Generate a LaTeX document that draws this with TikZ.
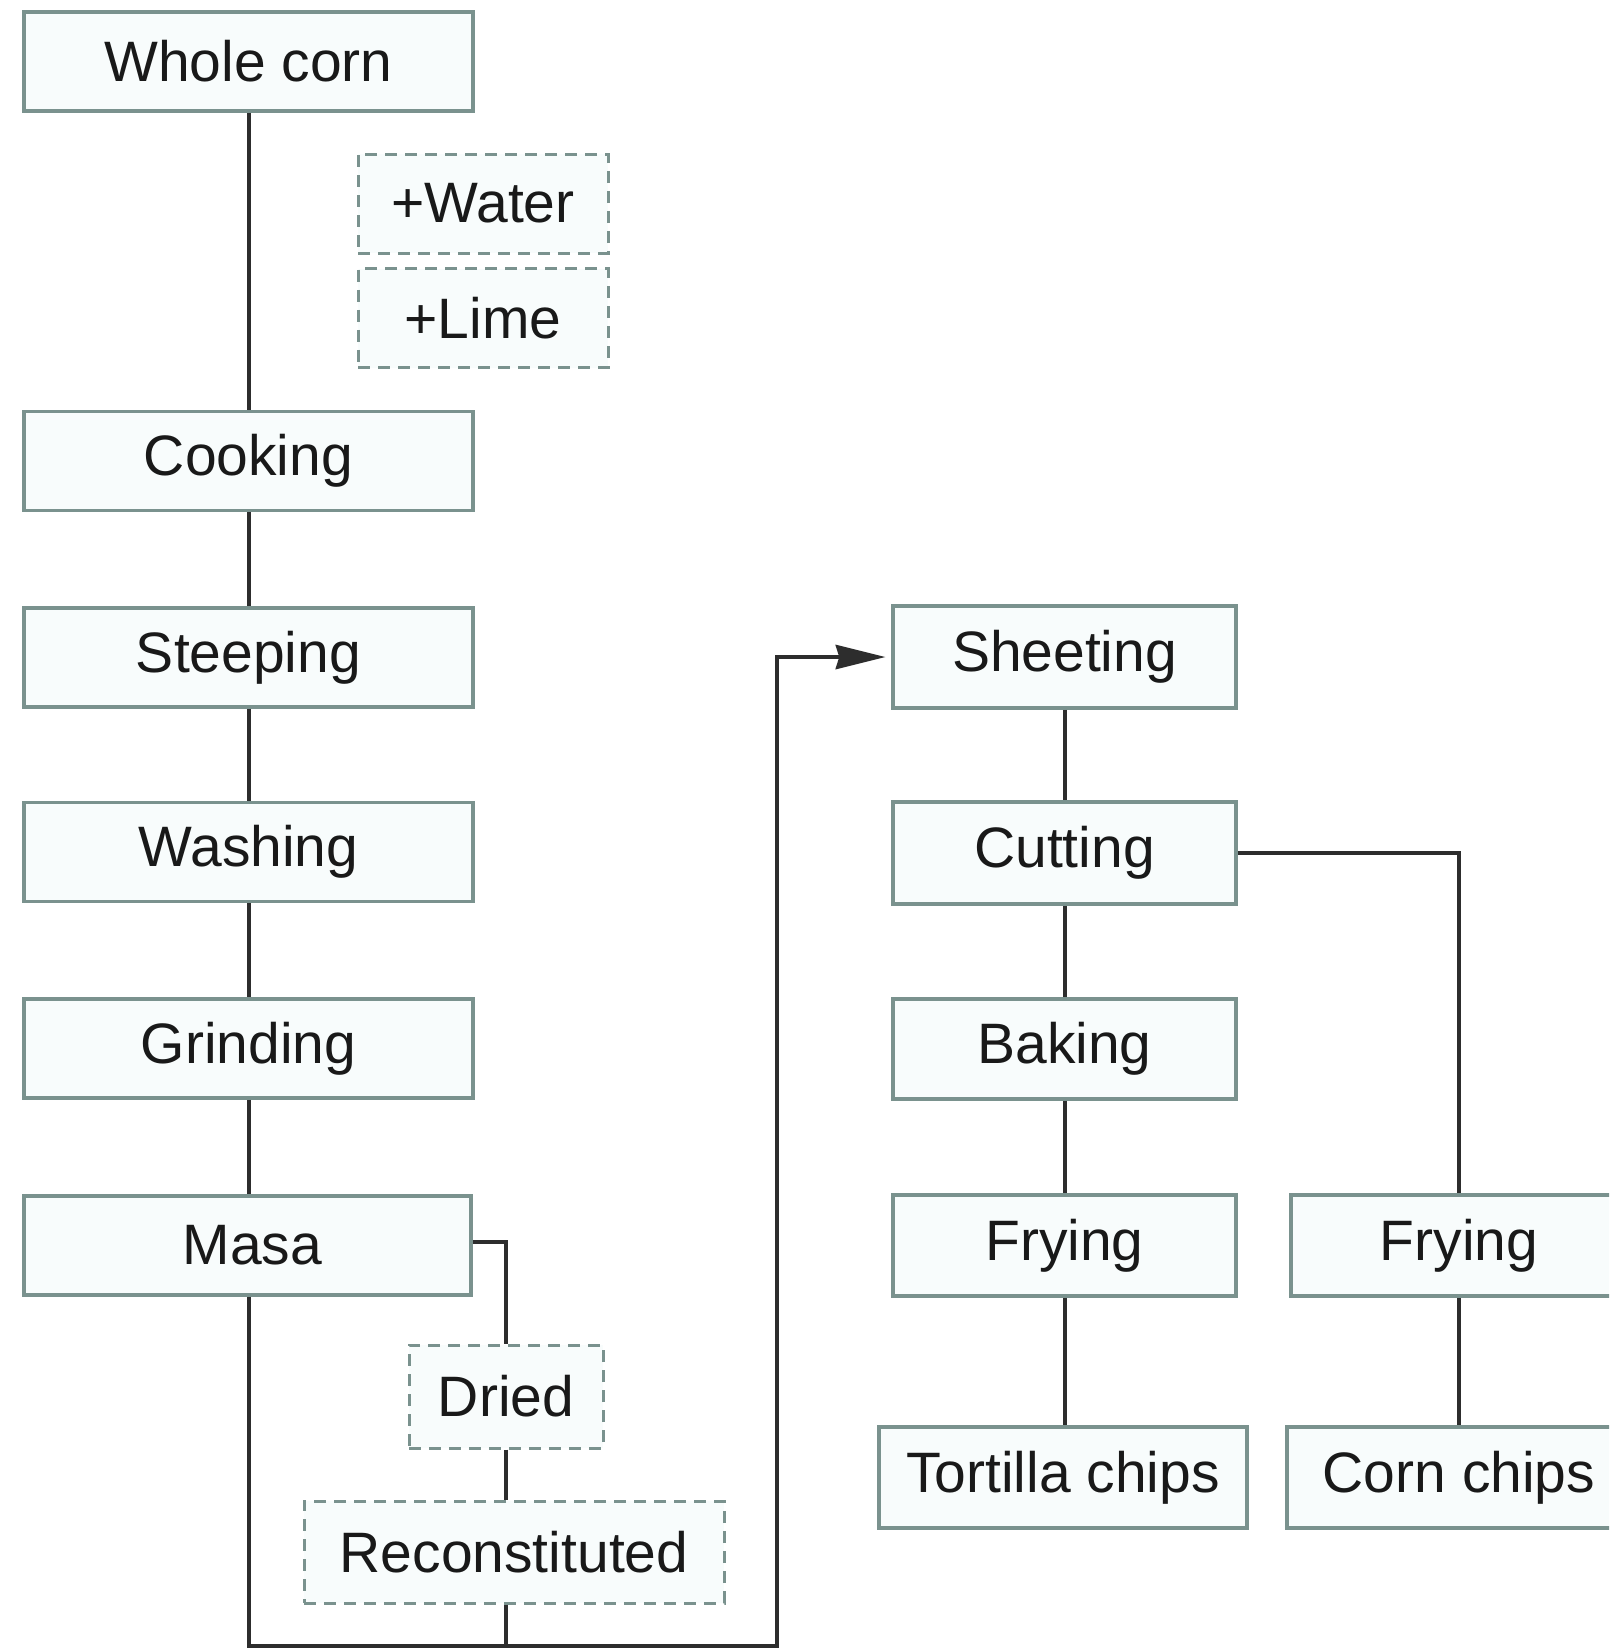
\documentclass[tikz,border=0pt]{standalone}
\usepackage{fontspec}
\setmainfont{Liberation Sans}
\usetikzlibrary{arrows.meta}
\definecolor{boxline}{RGB}{122,146,142}
\definecolor{boxfill}{RGB}{248,252,252}
\definecolor{conn}{RGB}{45,45,45}
\definecolor{txt}{RGB}{25,25,25}
\tikzset{
  box/.style={draw=boxline, fill=boxfill, line width=3.5pt, minimum height=99pt, inner sep=0pt,
    text=txt, font=\fontsize{57}{60}\selectfont},
  dbox/.style={box, dash pattern=on 12pt off 8pt, line width=3pt},
  connline/.style={draw=conn, line width=4pt},
}
\begin{document}
\begin{tikzpicture}[x=1pt,y=-1pt]
\useasboundingbox (0,0) rectangle (1609,1649);
\clip (0,0) rectangle (1609,1649);
\fill[white] (0,0) rectangle (1609,1649);
% left column
\node[box, minimum width=449pt] (whole) at (248.5,61.5) {Whole corn};
\node[dbox, minimum width=250pt] (water) at (483,203.5) {+Water};
\node[dbox, minimum width=250pt] (lime) at (483,318) {+Lime};
\node[box, minimum width=449pt] (cook) at (248.5,461) {Cooking};
\node[box, minimum width=449pt] (steep) at (248.5,657.5) {Steeping};
\node[box, minimum width=449pt] (wash) at (248.5,852) {Washing};
\node[box, minimum width=449pt] (grind) at (248.5,1048.5) {Grinding};
\node[box, minimum width=447pt] (masa) at (247.5,1245.5) {\hspace*{10pt}Masa};
\node[dbox, minimum width=194pt, minimum height=103pt] (dried) at (506,1396.5) {Dried};
\node[dbox, minimum width=420pt, minimum height=102pt] (recon) at (514,1552) {Reconstituted};
% right part
\node[box, minimum width=343pt, minimum height=102pt] (sheet) at (1064.5,657) {Sheeting};
\node[box, minimum width=343pt, minimum height=102pt] (cut) at (1064.5,853) {Cutting};
\node[box, minimum width=343pt, minimum height=100pt] (bake) at (1064.5,1049) {Baking};
\node[box, minimum width=343pt, minimum height=101pt] (fryl) at (1064.5,1245.5) {Frying};
\node[box, minimum width=368pt, minimum height=101pt] (tort) at (1063,1477.5) {Tortilla chips};
\node[box, minimum width=336pt, minimum height=101pt] (fryr) at (1459,1245.5) {Frying};
\node[box, minimum width=344pt, minimum height=101pt] (corn) at (1459,1477.5) {Corn chips};
\coordinate (b1) at (249,1646);
\coordinate (b2) at (506,1646);
\coordinate (b3) at (777,1646);
\coordinate (up) at (777,657);
\coordinate (cr) at (1459,853);
\coordinate (mr) at (506,1242);
% connectors
\draw[connline] (whole.south -| b1) -- (cook.north -| b1);
\draw[connline] (cook.south -| b1) -- (steep.north -| b1);
\draw[connline] (steep.south -| b1) -- (wash.north -| b1);
\draw[connline] (wash.south -| b1) -- (grind.north -| b1);
\draw[connline] (grind.south -| b1) -- (masa.north -| b1);
\draw[connline] (masa.east |- mr) -- (mr) -- (dried.north -| mr);
\draw[connline] (dried.south -| mr) -- (recon.north -| mr);
\draw[connline] (recon.south -| b2) -- (b2);
\draw[connline] (masa.south -| b1) -- (b1) -- (b3) -- (up)
  -- ([xshift=-20pt]sheet.west) ;
\draw[draw=none, fill=conn] ([xshift=-6pt]sheet.west) -- ++(-50,-12.5) -- ++(4,12.5) -- ++(-4,12.5) -- cycle;
\draw[connline] (sheet) -- (cut);
\draw[connline] (cut) -- (bake);
\draw[connline] (bake) -- (fryl);
\draw[connline] (fryl.south) -- (fryl.south |- tort.north);
\draw[connline] (cut.east) -- (cr) -- (fryr.north);
\draw[connline] (fryr) -- (corn);
\end{tikzpicture}
\end{document}
